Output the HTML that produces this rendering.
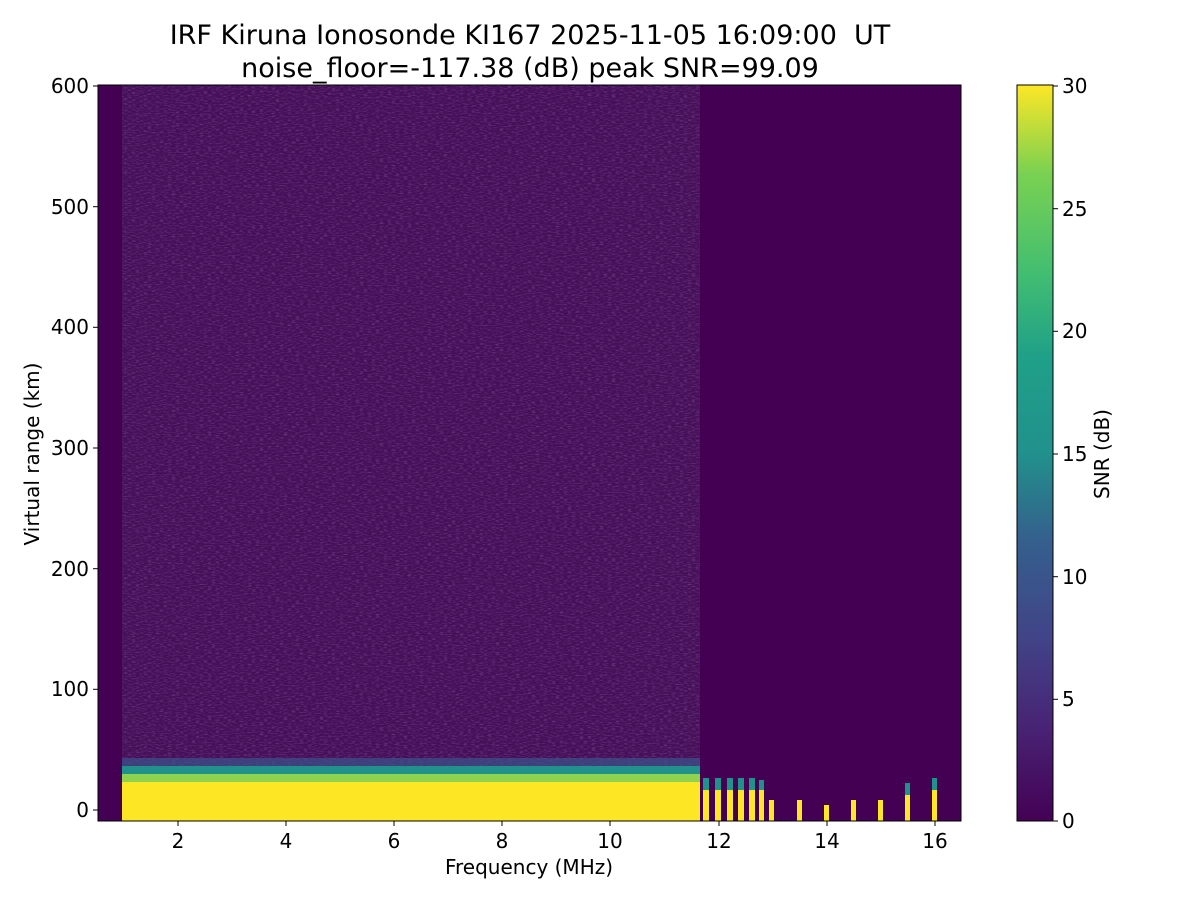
<!DOCTYPE html>
<html><head><meta charset="utf-8"><style>
body{margin:0;background:#fff;width:1200px;height:900px;overflow:hidden;font-family:"DejaVu Sans","Liberation Sans",sans-serif}
</style></head><body>
<svg width="1200" height="900" xmlns="http://www.w3.org/2000/svg" font-family="DejaVu Sans, Liberation Sans, sans-serif">
<defs>
<linearGradient id="cb" x1="0" y1="1" x2="0" y2="0">
<stop offset="0" stop-color="#440154"/><stop offset="0.13" stop-color="#482475"/><stop offset="0.25" stop-color="#414487"/><stop offset="0.38" stop-color="#355f8d"/><stop offset="0.5" stop-color="#21918c"/><stop offset="0.63" stop-color="#1fa088"/><stop offset="0.75" stop-color="#44bf70"/><stop offset="0.88" stop-color="#7ad151"/><stop offset="1" stop-color="#fde725"/>
</linearGradient>
<filter id="n" x="0" y="0" width="100%" height="100%">
<feTurbulence type="fractalNoise" baseFrequency="0.25 0.9" numOctaves="1" seed="3"/>
<feColorMatrix values="0 0 0 0 0.28  0 0 0 0 0.12  0 0 0 0 0.42  0 0 0 1.2 -0.55"/>
</filter>
</defs>
<text x="530" y="44" font-size="27" text-anchor="middle">IRF Kiruna Ionosonde KI167 2025-11-05 16:09:00&#160; UT</text>
<text x="530" y="77" font-size="27" text-anchor="middle">noise_floor=-117.38 (dB) peak SNR=99.09</text>
<rect x="98" y="85" width="863" height="736" fill="#440154"/>
<rect x="122" y="85" width="578" height="690" fill="#461059"/>
<rect x="122" y="85" width="578" height="690" filter="url(#n)"/>
<rect x="700" y="85" width="261" height="736" fill="#440154"/>
<rect x="122" y="758" width="578" height="10" fill="#3b528b" opacity="0.7"/>
<rect x="122" y="766" width="578" height="10" fill="#21918c"/>
<rect x="122" y="774" width="578" height="47" fill="#fde725"/>
<rect x="122" y="774" width="578" height="8" fill="#5ec962" opacity="0.7"/>
<g fill="#fde725">
<rect x="703" y="790" width="6" height="31"/><rect x="715" y="790" width="6" height="31"/><rect x="727" y="790" width="6" height="31"/><rect x="738" y="790" width="6" height="31"/><rect x="749" y="790" width="6" height="31"/><rect x="759" y="790" width="5" height="31"/><rect x="769" y="800" width="5" height="21"/><rect x="797" y="800" width="5" height="21"/><rect x="824" y="805" width="5" height="16"/><rect x="851" y="800" width="5" height="21"/><rect x="878" y="800" width="5" height="21"/><rect x="905" y="795" width="5" height="26"/><rect x="932" y="790" width="5" height="31"/>
</g>
<g fill="#21918c"><rect x="703" y="778" width="6" height="12"/><rect x="715" y="778" width="6" height="12"/><rect x="727" y="778" width="6" height="12"/><rect x="738" y="778" width="6" height="12"/><rect x="749" y="778" width="6" height="12"/><rect x="759" y="780" width="5" height="10"/><rect x="932" y="778" width="5" height="12"/><rect x="905" y="783" width="5" height="12"/></g>
<rect x="98" y="85" width="863" height="736" fill="none" stroke="#000" stroke-width="1"/>
<g stroke="#000" stroke-width="1">
<line x1="178" y1="821" x2="178" y2="826"/><line x1="286" y1="821" x2="286" y2="826"/><line x1="394" y1="821" x2="394" y2="826"/><line x1="502" y1="821" x2="502" y2="826"/><line x1="610" y1="821" x2="610" y2="826"/><line x1="719" y1="821" x2="719" y2="826"/><line x1="827" y1="821" x2="827" y2="826"/><line x1="935" y1="821" x2="935" y2="826"/>
<line x1="93" y1="86" x2="98" y2="86"/><line x1="93" y1="206.7" x2="98" y2="206.7"/><line x1="93" y1="327.3" x2="98" y2="327.3"/><line x1="93" y1="448" x2="98" y2="448"/><line x1="93" y1="568.7" x2="98" y2="568.7"/><line x1="93" y1="689.3" x2="98" y2="689.3"/><line x1="93" y1="810" x2="98" y2="810"/>
</g>
<g font-size="20" text-anchor="middle">
<text x="178" y="848">2</text><text x="286" y="848">4</text><text x="394" y="848">6</text><text x="502" y="848">8</text><text x="610" y="848">10</text><text x="719" y="848">12</text><text x="827" y="848">14</text><text x="935" y="848">16</text>
</g>
<g font-size="20" text-anchor="end">
<text x="89" y="93">600</text><text x="89" y="214">500</text><text x="89" y="334">400</text><text x="89" y="455">300</text><text x="89" y="576">200</text><text x="89" y="696">100</text><text x="89" y="817">0</text>
</g>
<text x="529" y="874" font-size="20" text-anchor="middle">Frequency (MHz)</text>
<text transform="translate(39,454) rotate(-90)" font-size="20" text-anchor="middle">Virtual range (km)</text>
<rect x="1017" y="85" width="36" height="736" fill="url(#cb)" stroke="#000" stroke-width="1"/>
<g stroke="#000"><line x1="1053" y1="86" x2="1058" y2="86"/><line x1="1053" y1="208.7" x2="1058" y2="208.7"/><line x1="1053" y1="331.3" x2="1058" y2="331.3"/><line x1="1053" y1="454" x2="1058" y2="454"/><line x1="1053" y1="576.7" x2="1058" y2="576.7"/><line x1="1053" y1="699.3" x2="1058" y2="699.3"/><line x1="1053" y1="821" x2="1058" y2="821"/></g>
<g font-size="20"><text x="1062" y="93">30</text><text x="1062" y="216">25</text><text x="1062" y="338">20</text><text x="1062" y="461">15</text><text x="1062" y="584">10</text><text x="1062" y="706">5</text><text x="1062" y="828">0</text></g>
<text transform="translate(1109,454) rotate(-90)" font-size="20" text-anchor="middle">SNR (dB)</text>
</svg>
</body></html>
